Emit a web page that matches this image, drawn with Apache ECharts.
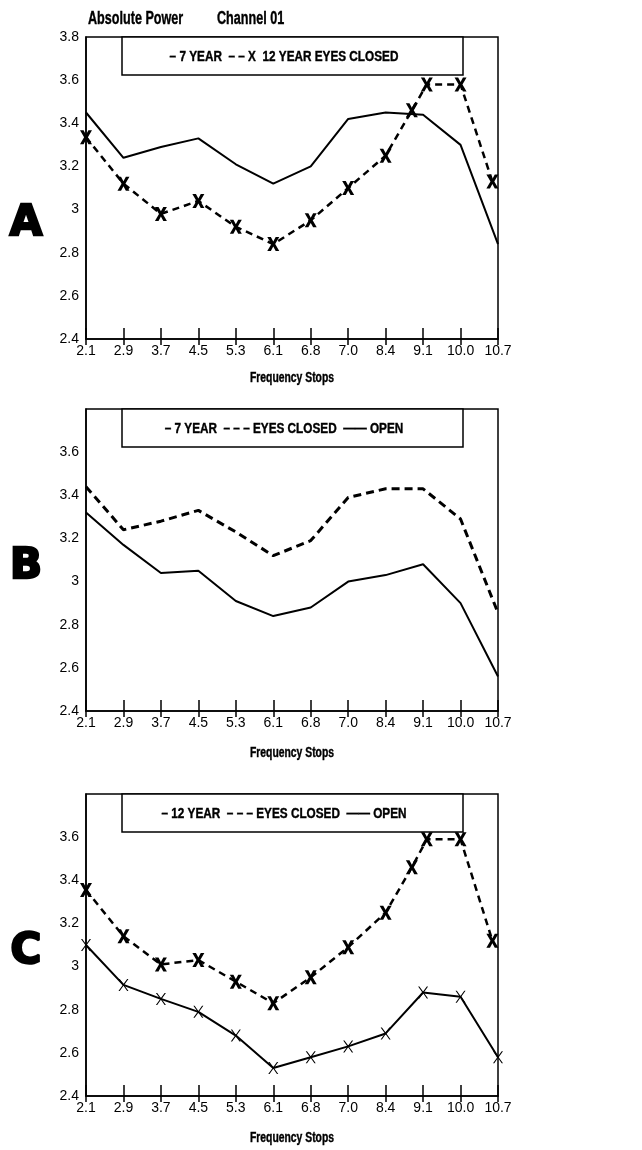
<!DOCTYPE html>
<html lang="en">
<head>
<meta charset="UTF-8">
<title>Absolute Power Channel 01</title>
<style>
  html, body { margin: 0; padding: 0; background: #fff; }
</style>
</head>
<body>
<div id="main" style="width:642px;height:1150px;"></div>
<script src="https://cdn.jsdelivr.net/npm/echarts@6/dist/echarts.min.js"></script>
<script>
// frequency stops (x tick labels)
var freqLabels = ['2.1', '2.9', '3.7', '4.5', '5.3', '6.1', '6.8', '7.0', '8.4', '9.1', '10.0', '10.7'];

// panel A : 7 year vs 12 year, eyes closed
var a7Closed = [3.45, 3.24, 3.29, 3.33, 3.21, 3.12, 3.20, 3.42, 3.45, 3.44, 3.30, 2.84];
var a12ClosedX = [0, 1, 2, 3, 4, 5, 6, 7, 8, 8.7, 9.1, 10, 10.85];
var a12Closed = [3.335, 3.12, 2.98, 3.04, 2.92, 2.84, 2.95, 3.10, 3.25, 3.46, 3.58, 3.58, 3.13];

// panel B : 7 year, eyes closed / open
var b7Closed = [3.44, 3.24, 3.28, 3.33, 3.23, 3.12, 3.19, 3.39, 3.43, 3.43, 3.29, 2.855];
var b7Open = [3.32, 3.17, 3.04, 3.05, 2.91, 2.84, 2.88, 3.00, 3.03, 3.08, 2.90, 2.56];

// panel C : 12 year, eyes closed / open
var c12ClosedX = [0, 1, 2, 3, 4, 5, 6, 7, 8, 8.7, 9.1, 10, 10.85];
var c12Closed = [3.355, 3.14, 3.01, 3.03, 2.93, 2.83, 2.95, 3.09, 3.25, 3.46, 3.59, 3.59, 3.12];
var c12Open = [3.10, 2.915, 2.85, 2.79, 2.68, 2.53, 2.58, 2.63, 2.69, 2.88, 2.86, 2.58];

var sans = "'Liberation Sans', Arial, sans-serif";
var boldX = 'path://M0,0L3,0L5,3.2L7,0L10,0L6.6,5L10,10L7,10L5,6.8L3,10L0,10L3.4,5Z';
var thinX = 'path://M0,0L1.3,0L5,4.3L8.7,0L10,0L5.7,5L10,10L8.7,10L5,5.7L1.3,10L0,10L4.3,5Z';

function pairs(xs, ys) {
    return ys.map(function (y, i) { return [xs ? xs[i] : i, y]; });
}

var tops = [37, 409, 794];
var grids = tops.map(function (t) {
    return { left: 86, width: 412, top: t, height: 302, show: true, borderColor: '#000', borderWidth: 1.5 };
});

var xAxes = [];
var yAxes = [];
tops.forEach(function (t, g) {
    xAxes.push({
        type: 'value', gridIndex: g, min: 0, max: 11, interval: 1,
        axisLine: { lineStyle: { color: '#000', width: 1.5 } },
        axisTick: { inside: true, length: 11, lineStyle: { color: '#000', width: 1.5 } },
        axisLabel: {
            margin: 5, fontFamily: sans, fontSize: 14, color: '#000',
            formatter: function (v) { return freqLabels[v]; }
        },
        splitLine: { show: false }
    });
    xAxes.push({
        type: 'value', gridIndex: g, min: 0, max: 11, interval: 1, position: 'bottom',
        axisLine: { show: false },
        axisTick: { length: 6, lineStyle: { color: '#000', width: 1.5 } },
        axisLabel: { show: false },
        splitLine: { show: false }
    });
    yAxes.push({
        type: 'value', gridIndex: g, min: 2.4, max: 3.8, interval: 0.2,
        axisLine: { show: true, lineStyle: { color: '#000', width: 1.5 } },
        axisTick: { show: false },
        axisLabel: {
            margin: 7, fontFamily: sans, fontSize: 14, color: '#000',
            formatter: function (v) {
                if (g > 0 && Math.abs(v - 3.8) < 1e-6) return '';
                return String(Number(v.toFixed(1)));
            }
        },
        splitLine: { show: false }
    });
});

function line(g, data, extra) {
    return Object.assign({
        type: 'line', xAxisIndex: g * 2, yAxisIndex: g, data: data,
        symbol: 'none', lineStyle: { color: '#000', width: 2 }, z: 3
    }, extra || {});
}

var series = [
    line(0, pairs(null, a7Closed)),
    line(0, pairs(a12ClosedX, a12Closed), {
        lineStyle: { color: '#000', width: 2.5, type: [7, 5] },
        symbol: boldX, symbolSize: [12, 14], itemStyle: { color: '#000' }
    }),
    line(1, pairs(null, b7Closed), {
        lineStyle: { color: '#000', width: 3, type: [8, 5] }
    }),
    line(1, pairs(null, b7Open)),
    line(2, pairs(c12ClosedX, c12Closed), {
        lineStyle: { color: '#000', width: 2.5, type: [7, 5] },
        symbol: boldX, symbolSize: [12, 14], itemStyle: { color: '#000' }
    }),
    line(2, pairs(null, c12Open), {
        symbol: thinX, symbolSize: [10, 12], itemStyle: { color: '#000' }
    })
];

var legendTexts = [
    '\u2013 7 YEAR  \u2013 \u2013 X  12 YEAR EYES CLOSED',
    '\u2013 7 YEAR  \u2013 \u2013 \u2013 EYES CLOSED  \u2014\u2014 OPEN',
    '\u2013 12 YEAR  \u2013 \u2013 \u2013 EYES CLOSED  \u2014\u2014 OPEN'
];
var letters = ['A', 'B', 'C'];
var letterY = [224, 567, 952];
var nameY = [378, 753, 1138];

function centered(text, x, y, font, sx, z, sw) {
    var style = {
        text: text, font: font, fill: '#000',
        textAlign: 'center', textVerticalAlign: 'middle', align: 'center', verticalAlign: 'middle'
    };
    if (sw) { style.stroke = '#000'; style.lineWidth = sw; }
    return { type: 'text', z: z || 1, x: x, y: y, scaleX: sx || 1, style: style };
}

var graphics = [
    { type: 'text', x: 88, y: 10, scaleX: 0.7, style: { text: 'Absolute Power', font: 'bold 18px ' + sans, fill: '#000', stroke: '#000', lineWidth: 0.4 } },
    { type: 'text', x: 217, y: 10, scaleX: 0.7, style: { text: 'Channel 01', font: 'bold 18px ' + sans, fill: '#000', stroke: '#000', lineWidth: 0.4 } }
];
tops.forEach(function (t, g) {
    graphics.push({
        type: 'rect', z: 10,
        shape: { x: 122, y: t, width: 341, height: 38 },
        style: { fill: '#fff', stroke: '#000', lineWidth: 1.5 }
    });
    graphics.push(centered(legendTexts[g], 284, t + 20, 'bold 14px ' + sans, 0.84, 11, 0.4));
    graphics.push(centered(letters[g], 26, letterY[g], 'bold 42px "DejaVu Sans", sans-serif', 1, 1, 2.5));
    graphics.push(centered('Frequency Stops', 292, nameY[g], 'bold 14px ' + sans, 0.74, 1, 0.4));
});

var chart = echarts.init(document.getElementById('main'));
chart.setOption({
    animation: false,
    backgroundColor: '#fff',
    grid: grids,
    xAxis: xAxes,
    yAxis: yAxes,
    series: series,
    graphic: graphics
});
</script>
</body>
</html>
